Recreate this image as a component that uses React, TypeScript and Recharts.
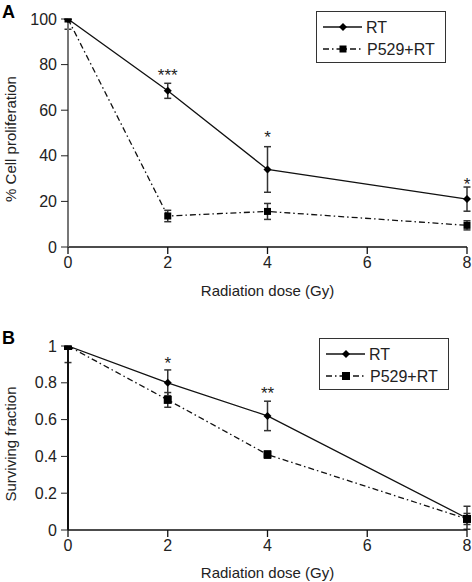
import React from 'react';
import { ComposedChart, Line, XAxis, YAxis, ErrorBar, Scatter } from 'recharts';

const doses = [0, 2, 4, 8];
const doseTicks = [0, 2, 4, 6, 8];

// panel A - % cell proliferation
const rtProlif = [100, 68.5, 34, 21];
const rtProlifErr = [[0, 0], [3.3, 3.3], [10, 10], [5.3, 5.3]];
const p529Prolif = [100, 13.6, 15.6, 9.5];
const p529ProlifErr = [[4.5, 0], [2.5, 2.5], [3.5, 3.5], [2, 2]];
const prolifTicks = [0, 20, 40, 60, 80, 100];
const prolifStarDoses = [2, 4, 8];
const prolifStarLevels = [77, 50, 29.5];
const prolifStars = ['***', '*', '*'];

// panel B - surviving fraction
const rtSurv = [1, 0.8, 0.62, 0.064];
const rtSurvErr = [[0.09, 0], [0.07, 0.07], [0.08, 0.08], [0.06, 0.065]];
const p529Surv = [1, 0.707, 0.41, 0.06];
const p529SurvErr = [[0, 0], [0.04, 0.04], [0.02, 0.02], [0.03, 0.03]];
const survTicks = [0, 0.2, 0.4, 0.6, 0.8, 1];
const survStarDoses = [2, 4];
const survStarLevels = [0.93, 0.766];
const survStars = ['*', '**'];

const FONT = '"Liberation Sans", Arial, sans-serif';
const DASH = '6 3 1.5 3';

const rowsA = doses.map((d, i) => ({ dose: d, rt: rtProlif[i], rtErr: rtProlifErr[i], p529: p529Prolif[i], p529Err: p529ProlifErr[i] }));
const rowsB = doses.map((d, i) => ({ dose: d, rt: rtSurv[i], rtErr: rtSurvErr[i], p529: p529Surv[i], p529Err: p529SurvErr[i] }));
const starsA = prolifStarDoses.map((d, i) => ({ dose: d, level: prolifStarLevels[i], text: prolifStars[i] }));
const starsB = survStarDoses.map((d, i) => ({ dose: d, level: survStarLevels[i], text: survStars[i] }));

const Diamond = (props: any) => {
  const { cx, cy } = props;
  if (cx == null || cy == null) return null;
  return <polygon points={`${cx},${cy - 4} ${cx + 4},${cy} ${cx},${cy + 4} ${cx - 4},${cy}`} fill="#000" />;
};

const Square = (size: number) => (props: any) => {
  const { cx, cy } = props;
  if (cx == null || cy == null) return null;
  return <rect x={cx - size / 2} y={cy - size / 2} width={size} height={size} fill="#000" />;
};

const Star = (props: any) => (
  <text x={props.cx} y={props.cy + 10} textAnchor="middle" fontSize={17} fontFamily={FONT} fill="#222">
    {props.payload.text}
  </text>
);

const YTitle = (text: string) => (props: any) => {
  const vb = props.viewBox;
  const cx = 10;
  const cy = vb.y + vb.height / 2 + 6;
  return (
    <text x={cx} y={cy} transform={`rotate(-90 ${cx} ${cy})`} textAnchor="middle" dominantBaseline="central"
      fontSize={15} fontFamily={FONT} fill="#222">{text}</text>
  );
};

const LegendBox = ({ left, top, sq }: { left: number; top: number; sq: number }) => (
  <svg style={{ position: 'absolute', left, top }} width={130} height={52}>
    <rect x={0.5} y={0.5} width={129} height={51} fill="#fff" stroke="#333" strokeWidth={1} />
    <line x1={7} y1={16} x2={46} y2={16} stroke="#111" strokeWidth={1.3} />
    <polygon points="27,12 31,16 27,20 23,16" fill="#000" />
    <text x={50} y={21.5} fontSize={16} fontFamily={FONT} fill="#222">RT</text>
    <line x1={7} y1={38} x2={46} y2={38} stroke="#111" strokeWidth={1.3} strokeDasharray={DASH} />
    <rect x={27 - sq / 2} y={38 - sq / 2} width={sq} height={sq} fill="#000" />
    <text x={51} y={43.5} fontSize={16} fontFamily={FONT} fill="#222">P529+RT</text>
  </svg>
);

const tickStyle = { fontSize: 16, fontFamily: FONT, fill: '#222' };

const Panel = ({ rows, stars, yTicks, yMax, title, ax, top, height, marginTop, xHeight, xOffset, sq }: any) => (
  <div style={{ position: 'absolute', left: 0, top }}>
    <ComposedChart width={472} height={height} data={rows} margin={{ top: marginTop, right: 5, bottom: 0, left: 0 }}>
      <XAxis dataKey="dose" type="number" domain={[0, 8]} ticks={doseTicks} interval={0} height={xHeight}
        tickSize={7} tickMargin={3} tick={tickStyle} stroke="#111" strokeWidth={1.3}
        label={{ value: 'Radiation dose (Gy)', position: 'insideBottom', offset: xOffset, fontSize: 15, fontFamily: FONT, fill: '#222' }} />
      <YAxis type="number" domain={[0, yMax]} ticks={yTicks} interval={0} width={68} allowDataOverflow
        tickSize={7} tickMargin={4} tick={tickStyle} axisLine={{ stroke: ax, strokeWidth: 2 }} tickLine={{ stroke: '#222' }}
        label={{ content: YTitle(title) }} />
      <Line dataKey="p529" stroke="#111" strokeWidth={1.3} strokeDasharray={DASH} dot={Square(sq)} activeDot={false} isAnimationActive={false}>
        <ErrorBar dataKey="p529Err" direction="y" width={3.5} stroke="#333" strokeWidth={1.5} />
      </Line>
      <Line dataKey="rt" stroke="#111" strokeWidth={1.3} dot={<Diamond />} activeDot={false} isAnimationActive={false}>
        <ErrorBar dataKey="rtErr" direction="y" width={3.5} stroke="#333" strokeWidth={1.5} />
      </Line>
      <Scatter data={stars} dataKey="level" shape={Star} isAnimationActive={false} />
    </ComposedChart>
  </div>
);

const App: React.FC = () => {
  return (
    <div style={{ position: 'absolute', left: 0, top: 0, width: 472, height: 582, background: '#fff', fontFamily: FONT }}>
      <Panel rows={rowsA} stars={starsA} yTicks={prolifTicks} yMax={100} title="% Cell proliferation" ax="#777"
        top={0} height={310} marginTop={19} xHeight={63} xOffset={14} sq={7} />
      <Panel rows={rowsB} stars={starsB} yTicks={survTicks} yMax={1} title="Surviving fraction" ax="#111"
        top={310} height={272} marginTop={36} xHeight={52} xOffset={4} sq={8} />
      <LegendBox left={316} top={11} sq={7} />
      <LegendBox left={319} top={338} sq={8} />
      <div style={{ position: 'absolute', left: 2, top: 2, fontSize: 18, fontWeight: 'bold', fontFamily: FONT }}>A</div>
      <div style={{ position: 'absolute', left: 2, top: 328, fontSize: 18, fontWeight: 'bold', fontFamily: FONT }}>B</div>
    </div>
  );
};

export default App;
